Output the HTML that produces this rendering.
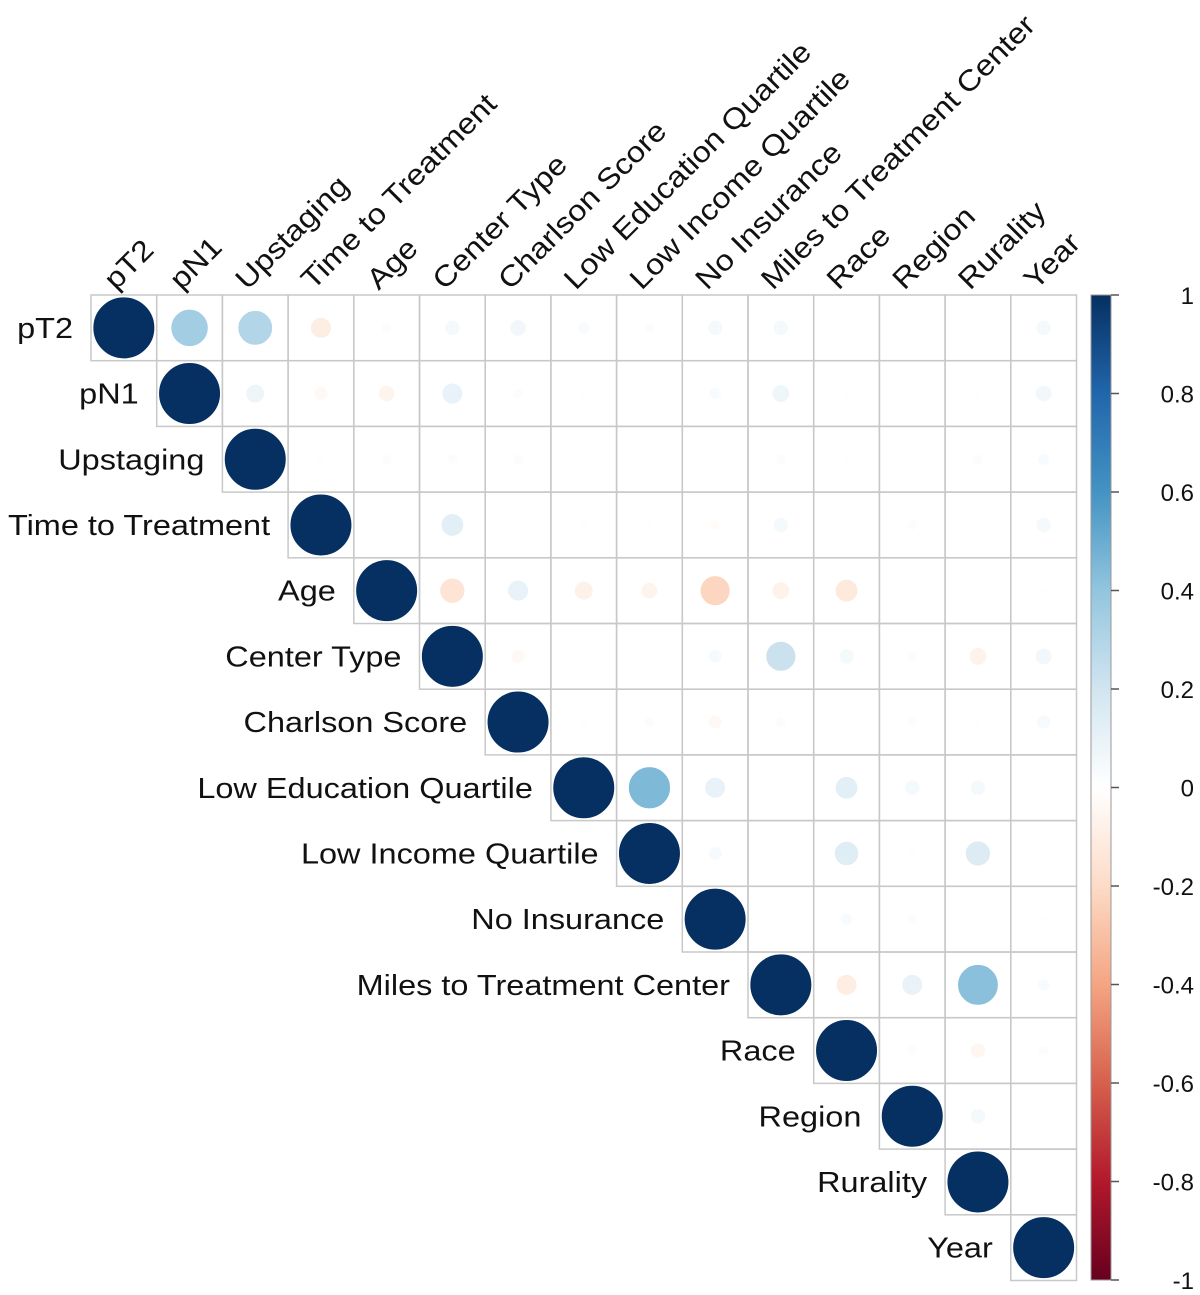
<!DOCTYPE html>
<html><head><meta charset="utf-8"><style>
html,body{margin:0;padding:0;background:#fff;}
svg{display:block;font-family:"Liberation Sans",Arial,sans-serif;}
</style></head><body>
<svg id="chart" width="1200" height="1295" viewBox="0 0 1200 1295" xmlns="http://www.w3.org/2000/svg"></svg>
<script>
const labels = ["pT2","pN1","Upstaging","Time to Treatment","Age","Center Type","Charlson Score","Low Education Quartile","Low Income Quartile","No Insurance","Miles to Treatment Center","Race","Region","Rurality","Year"];
const row0 = [1,0.35,0.3,-0.1,0.02,0.05,0.06,0.03,0.02,0.05,0.05,0,0,0.01,0.05];
const row1 = [1,0.08,-0.04,-0.06,0.1,0.02,0.01,0,0.03,0.07,0.01,0,0.01,0.06];
const row2 = [1,0.01,0.02,0.02,0.02,0,0,0.01,0.02,0.01,0,0.02,0.03];
const row3 = [1,0,0.12,0,0.01,0.01,-0.02,0.05,0,-0.02,0,0.05];
const row4 = [1,-0.15,0.1,-0.08,-0.06,-0.22,-0.07,-0.12,0,0,0.01];
const row5 = [1,-0.04,0.01,0.01,0.04,0.22,0.05,-0.02,-0.07,0.06];
const row6 = [1,0.01,0.02,-0.04,0.02,0,-0.02,0.01,0.04];
const row7 = [1,0.45,0.1,0,0.12,0.05,0.05,0];
const row8 = [1,0.04,0,0.14,0.01,0.15,0];
const row9 = [1,0,0.03,0.02,0,0.01];
const row10 = [1,-0.1,0.1,0.42,0.03];
const row11 = [1,-0.02,-0.05,0.02];
const row12 = [1,0.05,0];
const row13 = [1,0];
const row14 = [1];
const rows = [row0,row1,row2,row3,row4,row5,row6,row7,row8,row9,row10,row11,row12,row13,row14];
const barTicks = [1,0.8,0.6,0.4,0.2,0,-0.2,-0.4,-0.6,-0.8,-1];

const NS="http://www.w3.org/2000/svg";
const svg=document.getElementById('chart');
const X0=91,Y0=295,CELL=65.7,N=labels.length;
const xc=j=>X0+CELL*(j+0.5), yc=i=>Y0+CELL*(i+0.5);
const stops=[[-1,[103,0,31]],[-0.8,[178,24,43]],[-0.6,[214,96,77]],[-0.4,[244,165,130]],[-0.2,[253,219,199]],[0,[255,255,255]],[0.2,[209,229,240]],[0.4,[146,197,222]],[0.6,[67,147,195]],[0.8,[33,102,172]],[1,[5,48,97]]];
function col(v){for(let k=0;k<stops.length-1;k++){const a=stops[k],b=stops[k+1];if(v>=a[0]&&v<=b[0]){const t=(v-a[0])/(b[0]-a[0]);const c=a[1].map((x,m)=>Math.round(x+(b[1][m]-x)*t));return `rgb(${c[0]},${c[1]},${c[2]})`;}}return 'rgb(255,255,255)';}
function mk(t,at){const e=document.createElementNS(NS,t);for(const k in at)e.setAttribute(k,at[k]);svg.appendChild(e);return e;}

for(let i=0;i<N;i++){for(let j=i;j<N;j++){
 const r=mk('rect',{x:X0+CELL*j,y:Y0+CELL*i,width:CELL,height:CELL,fill:'none',stroke:'#c8c8c8','stroke-width':1.5});
 
 
}}
rows.forEach((row,i)=>{row.forEach((v,k)=>{const j=i+k;
 const rad=30*Math.sqrt(Math.abs(v));
 if(rad<0.5)return;
 const c=mk('ellipse',{cx:xc(j),cy:yc(i),rx:rad,ry:rad,fill:col(v),stroke:col(v),'stroke-width':1});
 
 
});});
labels.forEach((l,i)=>{
 const t=mk('text',{x:0,y:0,'text-anchor':'end','font-size':29,fill:'#111',transform:`translate(${X0+CELL*i-18},${yc(i)+10}) scale(1.12,1)`});
 t.textContent=l;
 
 
 const u=mk('text',{x:0,y:0,'font-size':29,fill:'#111',transform:`translate(${xc(i)-8},${Y0-4}) rotate(-45) scale(1.12,1)`});
 u.textContent=l;
 
 
});
const BX=1091,BW=20,BT=295,BB=1280;
const defs=mk('defs',{});
const g=document.createElementNS(NS,'linearGradient');g.setAttribute('id','cb');g.setAttribute('x1','0');g.setAttribute('y1','1');g.setAttribute('x2','0');g.setAttribute('y2','0');defs.appendChild(g);
stops.forEach(s=>{const st=document.createElementNS(NS,'stop');st.setAttribute('offset',(s[0]+1)/2);st.setAttribute('stop-color',`rgb(${s[1].join(',')})`);g.appendChild(st);});
const bar=mk('rect',{x:BX,y:BT,width:BW,height:BB-BT,fill:'url(#cb)',stroke:'#999','stroke-width':1});


const by=v=>BT+(1-v)/2*(BB-BT);
barTicks.forEach(v=>{
 const tk=mk('line',{x1:BX+BW,x2:BX+BW+8,y1:by(v),y2:by(v),stroke:'#555','stroke-width':1.5});
 
 
 const t=mk('text',{x:1194,y:by(v)+9,'text-anchor':'end','font-size':24,fill:'#111'});
 t.textContent=String(v);
 
 
});
</script>
</body></html>
